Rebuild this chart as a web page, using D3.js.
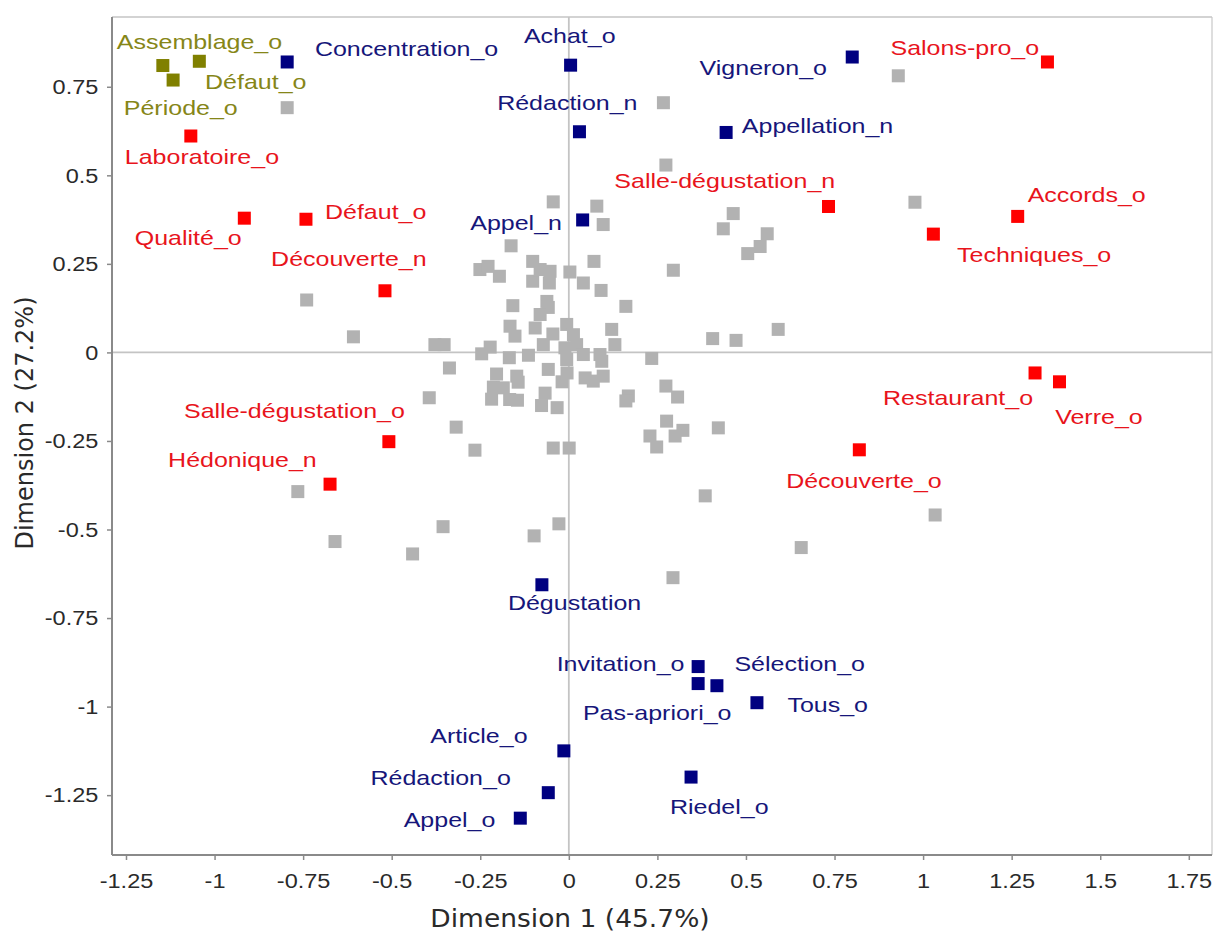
<!DOCTYPE html>
<html>
<head>
<meta charset="utf-8">
<script src="https://cdn.jsdelivr.net/npm/d3@7/dist/d3.min.js"></script>
<style>
  html, body { margin: 0; padding: 0; background: #fff; }
  svg { display: block; }
</style>
</head>
<body>
<svg id="chart" width="1215" height="936"></svg>
<script>
// ---------------- DATA ----------------
const activeLabels = [
  "Assemblage_o", "Défaut_o", "Période_o",
  "Concentration_o", "Achat_o", "Rédaction_n", "Appellation_n", "Vigneron_o", "Appel_n",
  "Dégustation", "Invitation_o", "Pas-apriori_o", "Sélection_o", "Tous_o",
  "Article_o", "Rédaction_o", "Appel_o", "Riedel_o",
  "Salons-pro_o", "Accords_o", "Techniques_o", "Salle-dégustation_n", "Laboratoire_o",
  "Qualité_o", "Défaut_o", "Découverte_n", "Salle-dégustation_o", "Hédonique_n",
  "Restaurant_o", "Verre_o", "Découverte_o"
];
const activeGroup = [
  "olive", "olive", "olive",
  "navy", "navy", "navy", "navy", "navy", "navy",
  "navy", "navy", "navy", "navy", "navy",
  "navy", "navy", "navy", "navy",
  "red", "red", "red", "red", "red",
  "red", "red", "red", "red", "red",
  "red", "red", "red"
];
const activeX = [
  -1.146, -1.043, -1.117,
  -0.795, 0.005, 0.030, 0.444, 0.800, 0.039,
  -0.076, 0.365, 0.365, 0.418, 0.531,
  -0.014, -0.058, -0.137, 0.345,
  1.351, 1.267, 1.029, 0.733, -1.067,
  -0.916, -0.742, -0.519, -0.508, -0.674,
  1.316, 1.385, 0.820
];
const activeY = [
  0.810, 0.822, 0.769,
  0.820, 0.811, 0.623, 0.621, 0.834, 0.374,
  -0.656, -0.887, -0.935, -0.941, -0.989,
  -1.125, -1.243, -1.315, -1.199,
  0.820, 0.384, 0.334, 0.412, 0.611,
  0.379, 0.376, 0.174, -0.252, -0.372,
  -0.058, -0.083, -0.275
];

const otherX = [
  -0.795, 0.267, 0.274, 0.930, 0.977, -0.044, 0.079, 0.097, 0.464, 0.436,
  0.560, 0.540, 0.505, -0.163, 0.295, 0.071, -0.251, -0.228, -0.196, -0.102,
  -0.102, -0.081, -0.053, -0.055, 0.003, 0.041, 0.091, 0.161, -0.158, -0.062,
  -0.058, -0.081, -0.095, -0.166, -0.152, -0.045, -0.006, 0.013, 0.121, 0.130,
  -0.072, -0.378, -0.352, -0.222, -0.246, -0.168, -0.114, -0.011, 0.022, 0.041,
  -0.006, 0.088, 0.093, 0.234, 0.406, 0.472, 0.591, -0.337, -0.394, -0.204,
  -0.213, -0.218, -0.185, -0.147, -0.143, -0.167, -0.145, -0.058, -0.067, -0.077,
  -0.033, -0.019, -0.005, 0.046, 0.069, 0.097, 0.168, 0.161, 0.274, 0.307,
  -0.318, -0.265, -0.044, 0.001, 0.276, 0.229, 0.248, 0.322, 0.300, 0.422,
  0.385, -0.740, -0.608, -0.765, -0.660, -0.441, -0.355, -0.098, -0.028, 0.294,
  0.656, 1.034
];
const otherY = [
  0.691, 0.705, 0.529, 0.781, 0.424, 0.425, 0.413, 0.361, 0.392, 0.349,
  0.335, 0.299, 0.279, 0.301, 0.232, 0.257, 0.234, 0.243, 0.215, 0.257,
  0.201, 0.234, 0.229, 0.196, 0.227, 0.196, 0.175, 0.130, 0.132, 0.144,
  0.127, 0.107, 0.069, 0.074, 0.046, 0.052, 0.079, 0.050, 0.065, 0.022,
  0.022, 0.022, 0.022, 0.015, -0.004, -0.015, -0.008, 0.013, 0.022, -0.006,
  -0.020, -0.006, -0.025, -0.017, 0.039, 0.034, 0.065, -0.044, -0.128, -0.061,
  -0.098, -0.132, -0.100, -0.067, -0.084, -0.133, -0.135, -0.048, -0.115, -0.150,
  -0.156, -0.083, -0.058, -0.072, -0.081, -0.067, -0.123, -0.137, -0.095, -0.126,
  -0.211, -0.276, -0.270, -0.270, -0.194, -0.236, -0.267, -0.220, -0.236, -0.213,
  -0.405, 0.148, 0.044, -0.393, -0.534, -0.569, -0.492, -0.518, -0.484, -0.636,
  -0.551, -0.459
];

const xTicks = [-1.25, -1, -0.75, -0.5, -0.25, 0, 0.25, 0.5, 0.75, 1, 1.25, 1.5, 1.75];
const yTicks = [0.75, 0.5, 0.25, 0, -0.25, -0.5, -0.75, -1, -1.25];
const xTitle = "Dimension 1 (45.7%)";
const yTitle = "Dimension 2 (27.2%)";

// ---------------- LAYOUT (label placement, px offsets from marker) ----------------
const labelPlacement = [
  ["start", -46, -17], ["start", 5.7, 28], ["start", -49.3, 35],
  ["start", 27.7, -6], ["start", -46.7, -22.6], ["start", -82.3, -21.7], ["start", 15.7, 1], ["end", -25.3, 17.7], ["end", -20.7, 10],
  ["start", -34, 25.3], ["end", -13.7, 4.7], ["end", 33.4, 36], ["start", 17.5, -14.6], ["start", 30.5, 9.4],
  ["end", -36.3, -7.4], ["end", -37.5, -7.3], ["end", -24.9, 8.7], ["middle", 28.2, 36.6],
  ["end", -8.3, -6.7], ["start", 10, -14], ["start", 23.7, 28], ["end", 6.7, -18.3], ["start", -66, 28.4],
  ["end", -2.6, 26.6], ["start", 19, 0], ["end", 41.7, -24.3], ["end", 16, -23.4], ["end", -13.3, -17.6],
  ["end", -2, 32.3], ["start", -4.3, 42], ["end", 82.4, 37.7]
];

const markerColor = { navy: "#000080", red: "#ff0000", olive: "#808000" };
const textColor = { navy: "#16167a", red: "#e8141c", olive: "#868618" };

// ---------------- CHART ----------------
const svg = d3.select("#chart");
const pL = 112, pR = 1212, pT = 17, pB = 855;

const x = d3.scaleLinear().domain([-1.2895, 1.8155]).range([pL, pR]);
const y = d3.scaleLinear().domain([-1.419, 0.947]).range([pB, pT]);

const sq = 13;
const labelFont = "'Liberation Sans', Arial, sans-serif";

// frame (top/right)
svg.append("line").attr("x1", pL).attr("x2", pR).attr("y1", pT).attr("y2", pT)
  .attr("stroke", "#a8a8a8").attr("stroke-width", 1.2);
svg.append("line").attr("x1", pR).attr("x2", pR).attr("y1", pT).attr("y2", pB)
  .attr("stroke", "#c8c8c8").attr("stroke-width", 1.2);

// zero lines
svg.append("line").attr("x1", pL).attr("x2", pR).attr("y1", y(0)).attr("y2", y(0))
  .attr("stroke", "#c4c4c4").attr("stroke-width", 1.8);
svg.append("line").attr("x1", x(0)).attr("x2", x(0)).attr("y1", pT).attr("y2", pB)
  .attr("stroke", "#c4c4c4").attr("stroke-width", 1.8);

// axes
const sx = 1.12;
const xAxis = d3.axisBottom(x).tickValues(xTicks).tickSize(5).tickPadding(13)
  .tickFormat(d => String(d));
const gx = svg.append("g").attr("transform", `translate(0,${pB})`).call(xAxis);
const yAxis = d3.axisLeft(y).tickValues(yTicks).tickSize(5).tickPadding(7.2)
  .tickFormat(d => String(d));
const gy = svg.append("g").attr("transform", `translate(${pL},0)`).call(yAxis);

[gx, gy].forEach(g => {
  g.select(".domain").attr("stroke", "#8a8a8a").attr("stroke-width", 2);
  g.selectAll(".tick line").attr("stroke", "#8a8a8a").attr("stroke-width", 1.5);
  g.selectAll(".tick text")
    .attr("fill", "#2a2a2a")
    .style("font-family", labelFont)
    .style("font-size", "21px")
    .attr("transform", `scale(${sx},1)`);
});
gx.select(".domain").attr("d", `M${pL},0H${pR}`);
gy.select(".domain").attr("d", `M0,${pB}V${pT}`);

// supplementary (gray) points
const others = otherX.map((v, i) => ({ x: v, y: otherY[i] }));
svg.append("g").selectAll("rect").data(others).join("rect")
  .attr("x", d => x(d.x) - sq / 2)
  .attr("y", d => y(d.y) - sq / 2)
  .attr("width", sq).attr("height", sq)
  .attr("fill", "#b2b2b2");

// active points
const actives = activeLabels.map((l, i) => ({
  label: l, x: activeX[i], y: activeY[i], group: activeGroup[i], place: labelPlacement[i]
}));
svg.append("g").selectAll("rect").data(actives).join("rect")
  .attr("x", d => x(d.x) - sq / 2)
  .attr("y", d => y(d.y) - sq / 2)
  .attr("width", sq).attr("height", sq)
  .attr("fill", d => markerColor[d.group]);

// labels
svg.append("g").selectAll("text").data(actives).join("text")
  .attr("transform", d => `translate(${x(d.x) + d.place[1]},${y(d.y) + d.place[2]}) scale(1.19,1)`)
  .attr("text-anchor", d => d.place[0])
  .attr("fill", d => textColor[d.group])
  .style("font-family", labelFont)
  .style("font-size", "21px")
  .text(d => d.label);

// axis titles
const titleFont = "'DejaVu Sans', Verdana, sans-serif";
svg.append("text")
  .attr("transform", `translate(570,927) scale(1.06,1)`)
  .attr("text-anchor", "middle")
  .attr("fill", "#2a2a2a")
  .style("font-family", titleFont)
  .style("font-size", "25px")
  .text(xTitle);
svg.append("text")
  .attr("transform", `translate(33,423) rotate(-90)`)
  .attr("text-anchor", "middle")
  .attr("fill", "#2a2a2a")
  .style("font-family", titleFont)
  .style("font-size", "24px")
  .text(yTitle);
</script>
</body>
</html>
